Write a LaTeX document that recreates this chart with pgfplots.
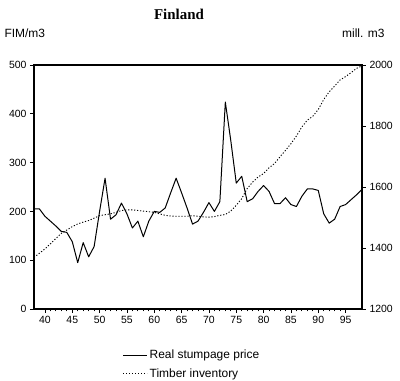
\documentclass[border=0pt]{standalone}
\usepackage{fontspec}
\setmainfont{Liberation Sans}
\newfontfamily\titlefont{Liberation Serif}
\usepackage{pgfplots}
\usepackage{pgfplotstable}
\pgfplotsset{compat=1.18}

\pgfplotstableread{
year price
38 205
39 205
40 190
41 180
42 170
43 159
44 157
45 138
46 95
47 136
48 107
49 128
50 200
51 268
52 184
53 193
54 217
55 195
56 166
57 180
58 148
59 180
60 200
61 198
62 207
63 238
64 268
65 238
66 207
67 174
68 180
69 198
70 218
71 200
72 220
73 424
74 345
75 258
76 272
77 220
78 226
79 241
80 253
81 241
82 216
83 216
84 228
85 214
86 210
87 231
88 246
89 246
90 243
91 195
92 176
93 184
94 210
95 214
96 224
97 234
98 245
}\pricetable

\pgfplotstableread{
year inv
38 1369
39 1383
40 1397
41 1414
42 1431
43 1448
44 1459
45 1470
46 1479
47 1485
48 1490
49 1498
50 1506
51 1509
52 1512
53 1517
54 1523
55 1525
56 1525
57 1523
58 1521
59 1519
60 1517
61 1512
62 1507
63 1505
64 1504
65 1504
66 1504
67 1506
68 1504
69 1502
70 1501
71 1503
72 1507
73 1510
74 1521
75 1540
76 1562
77 1595
78 1616
79 1633
80 1644
81 1663
82 1677
83 1699
84 1720
85 1742
86 1767
87 1797
88 1819
89 1832
90 1854
91 1887
92 1912
93 1931
94 1951
95 1962
96 1975
97 1989
98 1997
}\invtable

\begin{document}
\begin{tikzpicture}
\useasboundingbox (0,0) rectangle (400bp,381bp);
\pgfplotsset{
  common/.style={
    width=328bp, height=244bp, scale only axis,
    at={(34bp,72bp)}, anchor=south west,
    xmin=38, xmax=98,
    tick align=outside,
    major tick length=4bp, minor tick length=2.5bp,
    tick style={black, line width=0.8bp},
    ticklabel style={font=\fontsize{10.5}{12}\selectfont},
    /pgf/number format/assume math mode=true,
    /pgf/number format/1000 sep={},
  }
}
\begin{axis}[common,
  ymin=0, ymax=500, ytick={0,100,...,500},
  xtick={40,45,...,95}, minor x tick num=4,
  xtick pos=bottom, ytick pos=left,
  axis line style={line width=1.4bp},
  clip=false,
]
\addplot[black, line width=1bp, line join=round] table[x=year, y=price] {\pricetable};
\end{axis}
\begin{axis}[common,
  ymin=1200, ymax=2000, ytick={1200,1400,...,2000},
  axis x line=none, axis y line*=right,
  axis line style={line width=0.8bp, -},
  legend style={at={(0.27,-0.16)}, anchor=north west, draw=none, fill=none,
    font=\fontsize{12}{14}\selectfont, row sep=4bp, inner sep=0pt,
    legend cell align=left},
  legend image code/.code={\draw[#1] (0bp,0bp) -- (24bp,0bp);},
]
\addlegendimage{black, line width=0.8bp}
\addlegendentry{Real stumpage price}
\addplot[black, line width=0.9bp, dash pattern=on 1.2bp off 1.8bp] table[x=year, y=inv] {\invtable};
\addlegendentry{Timber inventory}
\end{axis}
\node[font=\titlefont\bfseries\fontsize{15}{17}\selectfont] at (179bp,367bp) {Finland};
\node[anchor=west, font=\fontsize{12}{14}\selectfont] at (1bp,348bp) {FIM/m3};
\node[anchor=east, font=\fontsize{12}{14}\selectfont] at (388bp,348bp) {mill. m3};
\end{tikzpicture}
\end{document}
